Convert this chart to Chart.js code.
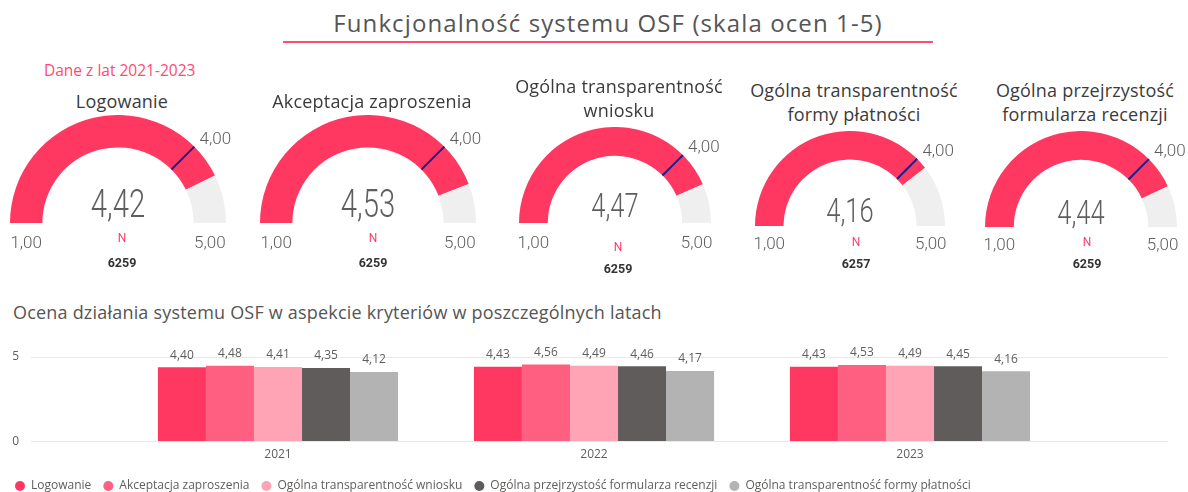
<!DOCTYPE html>
<html>
<head>
<meta charset="utf-8">
<script src="https://cdn.jsdelivr.net/npm/chart.js@4.4.1/dist/chart.umd.min.js"></script>
<style>
  html, body { margin: 0; padding: 0; background: #fff; }
  #page { position: relative; width: 1188px; height: 492px; overflow: hidden; font-family: "Open Sans", sans-serif; }
  .abs { position: absolute; white-space: nowrap; transform: translate(-50%, -50%); }
  #title { left: 608px; top: 22px; font-size: 24px; color: #555; letter-spacing: 1.1px; }
  #titleLine { position: absolute; left: 283px; top: 41px; width: 650px; height: 2px; background: #ff4d74; }
  #dane { position: absolute; left: 44px; top: 59px; font-size: 15.5px; color: #ff4a72; }
  .gtitle { font-size: 18px; color: #3b3b3b; text-align: center; line-height: 24px; letter-spacing: 0.2px; }
  .gval { font-family: Roboto, sans-serif; font-weight: 300; color: #605e5c; }
  .gsmall { font-family: Roboto, sans-serif; font-weight: 300; font-size: 17px; color: #605e5c; }
  .gn { font-family: Roboto, sans-serif; font-size: 12px; color: #ff3e6c; }
  .gcount { font-family: Roboto, sans-serif; font-weight: 700; font-size: 12.5px; color: #333; }
  #subtitle { position: absolute; left: 13px; top: 300px; font-size: 18px; letter-spacing: 0.2px; color: #555; }
  canvas { position: absolute; }
</style>
</head>
<body>
<div id="page">
  <div id="title" class="abs">Funkcjonalność systemu OSF (skala ocen 1-5)</div>
  <div id="titleLine"></div>
  <div id="dane">Dane z lat 2021-2023</div>
  <div id="subtitle">Ocena działania systemu OSF w aspekcie kryteriów w poszczególnych latach</div>
  <canvas id="barChart" width="1188" height="172" style="left:0;top:330px"></canvas>
</div>
<script>
// gauges
const gaugeTitles = [
  ['Logowanie'],
  ['Akceptacja zaproszenia'],
  ['Ogólna transparentność', 'wniosku'],
  ['Ogólna transparentność', 'formy płatności'],
  ['Ogólna przejrzystość', 'formularza recenzji']
];
const gaugeValues = [4.42, 4.53, 4.47, 4.16, 4.44];
const gaugeTargets = [4.00, 4.00, 4.00, 4.00, 4.00];
const gaugeCounts = [6259, 6259, 6259, 6257, 6259];
const gaugeMin = 1;
const gaugeMax = 5;

// bar chart
const years = ['2021', '2022', '2023'];
const seriesNames = [
  'Logowanie',
  'Akceptacja zaproszenia',
  'Ogólna transparentność wniosku',
  'Ogólna przejrzystość formularza recenzji',
  'Ogólna transparentność formy płatności'
];
const logowanie = [4.40, 4.43, 4.43];
const akceptacja = [4.48, 4.56, 4.53];
const transWniosku = [4.41, 4.49, 4.49];
const przejrzystosc = [4.35, 4.46, 4.45];
const transPlatnosci = [4.12, 4.17, 4.16];
const yTicks = [0, 5];

// layout of each gauge (center, radius, title top, value size, offsets)
const gaugeLayout = [
  { cx: 118, cy: 223, r: 108, titleTop: 89, valSize: 39, valDy: -19, endDy: 19, nDx: 4, nDy: 15, cDy: 39 },
  { cx: 368, cy: 223, r: 108, titleTop: 89, valSize: 39, valDy: -19, endDy: 19, nDx: 5, nDy: 15, cDy: 39 },
  { cx: 615, cy: 223, r: 96, titleTop: 74, valSize: 34, valDy: -18, endDy: 19, nDx: 3, nDy: 24, cDy: 45 },
  { cx: 850, cy: 226, r: 95, titleTop: 78, valSize: 34, valDy: -16, endDy: 17, nDx: 6, nDy: 16, cDy: 37 },
  { cx: 1081, cy: 227, r: 96, titleTop: 78, valSize: 34, valDy: -15, endDy: 17, nDx: 6, nDy: 15, cDy: 36 }
];

const pink = '#ff3862';
const fmt = v => v.toFixed(2).replace('.', ',');
const page = document.getElementById('page');

function addText(cls, text, x, y, style) {
  const d = document.createElement('div');
  d.className = 'abs ' + cls;
  d.textContent = text;
  d.style.left = x + 'px';
  d.style.top = y + 'px';
  if (style) Object.assign(d.style, style);
  page.appendChild(d);
  return d;
}

const targetLine = {
  id: 'targetLine',
  afterDatasetsDraw(chart, args, opts) {
    const arc = chart.getDatasetMeta(0).data[0];
    const frac = (opts.target - gaugeMin) / (gaugeMax - gaugeMin);
    const a = -Math.PI + frac * Math.PI;
    const ctx = chart.ctx;
    ctx.save();
    ctx.strokeStyle = '#1c1d8a';
    ctx.lineWidth = 2;
    ctx.beginPath();
    ctx.moveTo(arc.x + arc.innerRadius * Math.cos(a), arc.y + arc.innerRadius * Math.sin(a));
    ctx.lineTo(arc.x + arc.outerRadius * Math.cos(a), arc.y + arc.outerRadius * Math.sin(a));
    ctx.stroke();
    ctx.restore();
  }
};

gaugeValues.forEach((val, i) => {
  const L = gaugeLayout[i];
  const cv = document.createElement('canvas');
  cv.width = L.r * 2;
  cv.height = L.r;
  cv.style.left = (L.cx - L.r) + 'px';
  cv.style.top = (L.cy - L.r) + 'px';
  page.appendChild(cv);

  new Chart(cv, {
    type: 'doughnut',
    data: {
      datasets: [{
        data: [val - gaugeMin, gaugeMax - val],
        backgroundColor: [pink, '#f0efef'],
        borderWidth: 0
      }]
    },
    options: {
      responsive: false,
      animation: false,
      rotation: -90,
      circumference: 180,
      cutout: '70%',
      layout: { padding: 0 },
      events: [],
      plugins: { legend: { display: false }, tooltip: { enabled: false }, targetLine: { target: gaugeTargets[i] } }
    },
    plugins: [targetLine]
  });

  const t = addText('gtitle', '', L.cx + 4, L.titleTop);
  t.innerHTML = gaugeTitles[i].join('<br>');
  t.style.transform = 'translate(-50%, 0)';

  addText('gval', fmt(val), L.cx, L.cy + L.valDy, { fontSize: L.valSize + 'px', transform: 'translate(-50%, -50%) scaleX(0.75)' });
  const ringMid = L.r * 0.85;
  addText('gsmall', fmt(gaugeMin), L.cx - ringMid, L.cy + L.endDy);
  addText('gsmall', fmt(gaugeMax), L.cx + ringMid, L.cy + L.endDy);
  const ta = Math.PI * (1 - (gaugeTargets[i] - gaugeMin) / (gaugeMax - gaugeMin));
  addText('gsmall', fmt(gaugeTargets[i]), L.cx + L.r * Math.cos(ta) + 21, L.cy - L.r * Math.sin(ta) - 9);
  addText('gn', 'N', L.cx + L.nDx, L.cy + L.nDy);
  addText('gcount', String(gaugeCounts[i]), L.cx + L.nDx, L.cy + L.cDy);
});

// bar value labels
const barLabels = {
  id: 'barLabels',
  afterDatasetsDraw(chart) {
    const ctx = chart.ctx;
    ctx.save();
    ctx.font = '12px "Open Sans"';
    ctx.fillStyle = '#605e5c';
    ctx.textAlign = 'center';
    ctx.textBaseline = 'middle';
    chart.data.datasets.forEach((ds, di) => {
      chart.getDatasetMeta(di).data.forEach((bar, j) => {
        ctx.fillText(fmt(ds.data[j]), bar.x, bar.y - 12);
      });
    });
    ctx.restore();
  }
};

const barColors = ['#ff3862', '#ff5f80', '#ffa4b4', '#615c5c', '#b3b3b3'];
const seriesData = [logowanie, akceptacja, transWniosku, przejrzystosc, transPlatnosci];

new Chart(document.getElementById('barChart'), {
  type: 'bar',
  data: {
    labels: years,
    datasets: seriesNames.map((name, i) => ({
      label: name,
      data: seriesData[i],
      backgroundColor: barColors[i],
      borderWidth: 0,
      categoryPercentage: 0.76,
      barPercentage: 1
    }))
  },
  options: {
    responsive: false,
    animation: false,
    events: [],
    layout: { padding: { top: 27, right: 20, left: 3, bottom: 0 } },
    scales: {
      x: {
        grid: { display: false, drawTicks: false },
        border: { display: false },
        ticks: { color: '#605e5c', font: { size: 12, family: '"Open Sans"' }, padding: 6 }
      },
      y: {
        min: yTicks[0],
        max: yTicks[yTicks.length - 1],
        afterBuildTicks: s => { s.ticks = yTicks.map(v => ({ value: v })); },
        afterFit: s => { s.width = 117; },
        grid: { color: '#e9e9e9', tickLength: 89 },
        border: { display: false },
        ticks: { color: '#605e5c', font: { size: 12, family: '"Open Sans"' }, padding: 12 }
      },
      y2: {
        position: 'right',
        min: yTicks[0],
        max: yTicks[yTicks.length - 1],
        afterBuildTicks: s => { s.ticks = yTicks.map(v => ({ value: v })); },
        grid: { color: '#e9e9e9', tickLength: 100, drawOnChartArea: false },
        border: { display: false },
        ticks: { display: false }
      }
    },
    plugins: {
      tooltip: { enabled: false },
      legend: {
        position: 'bottom',
        align: 'start',
        labels: {
          usePointStyle: true,
          pointStyle: 'circle',
          boxHeight: 7,
          pointStyleWidth: 10,
          padding: 12,
          color: '#605e5c',
          font: { size: 12, family: '"Open Sans"' }
        }
      }
    }
  },
  plugins: [barLabels]
});
</script>
</body>
</html>
